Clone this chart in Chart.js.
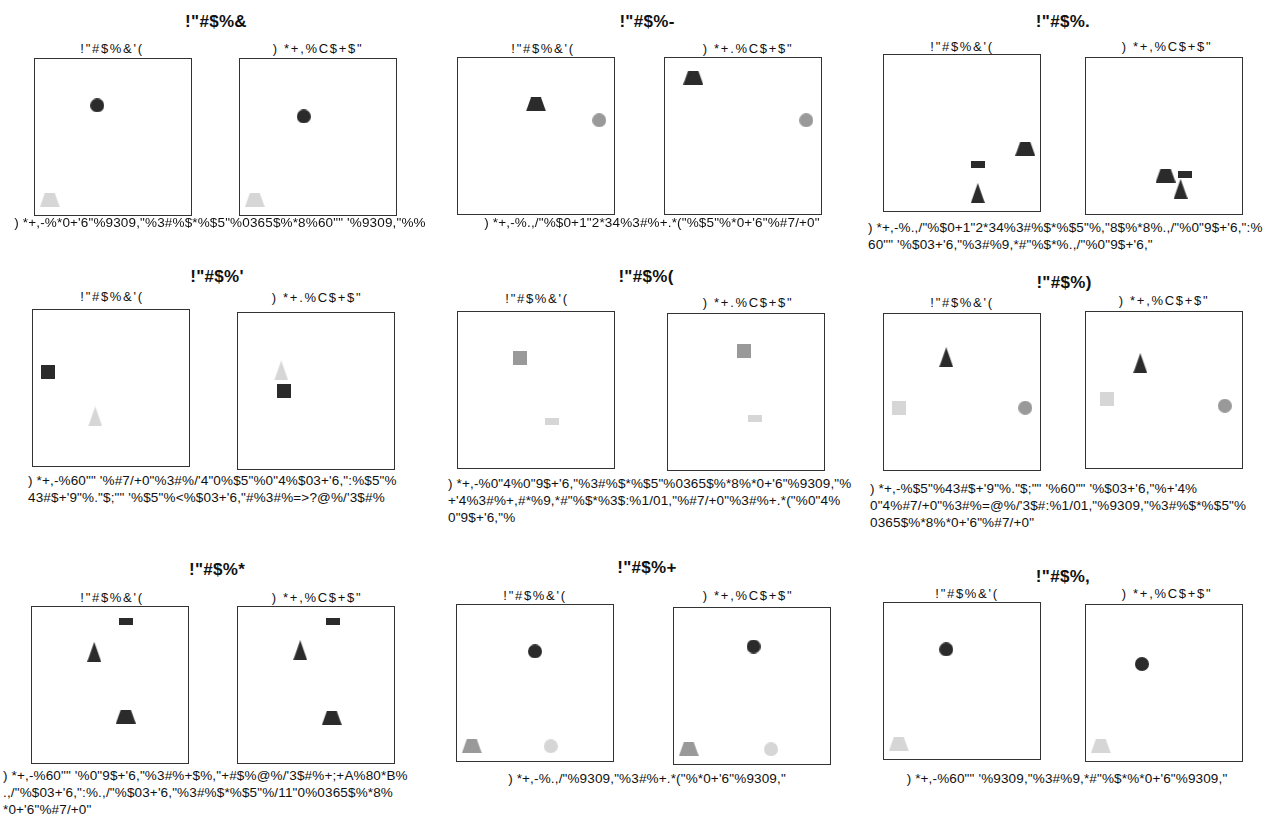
<!DOCTYPE html>
<html>
<head>
<meta charset="utf-8">
<script src="https://cdn.jsdelivr.net/npm/chart.js@4.4.1/dist/chart.umd.min.js"></script>
<style>
  body { margin: 0; background: #fff; }
  #page { position: relative; width: 1281px; height: 834px; overflow: hidden;
          font-family: "Liberation Sans", Arial, sans-serif; color: #111; }
  .t { position: absolute; white-space: pre; transform: translate(-50%, -50%); }
  .title { font-weight: bold; font-size: 17px; letter-spacing: 0.3px; }
  .sub { font-size: 13px; letter-spacing: 1.7px; }
  .cap { position: absolute; white-space: pre; font-size: 13.5px; line-height: 17px; letter-spacing: 0.15px; }
  canvas { position: absolute; }
</style>
</head>
<body>
<div id="page"></div>
<script>
const panelTitles = ['!"#$%&', '!"#$%-', '!"#$%.', '!"#$%\'', '!"#$%(', '!"#$%)', '!"#$%*', '!"#$%+', '!"#$%,'];
const leftTitles = Array(9).fill('!"#$%&\'(');
const rightTitles = [') *+,%C$+$"', ') *+.%C$+$"', ') *+,%C$+$"', ') *+.%C$+$"', ') *+.%C$+$"',
                     ') *+,%C$+$"', ') *+,%C$+$"', ') *+,%C$+$"', ') *+,%C$+$"'];
const captions = [
  [') *+,-%*0+\'6"%9309,"%3#%$*%$5"%0365$%*8%60"" \'%9309,"%%'],
  [') *+,-%.,/"%$0+1"2*34%3#%+.*("%$5"%*0+\'6"%#7/+0"'],
  [') *+,-%.,/"%$0+1"2*34%3#%$*%$5"%,"8$%*8%.,/"%0"9$+\'6,":%',
   '60"" \'%$03+\'6,"%3#%9,*#"%$*%.,/"%0"9$+\'6,"'],
  [') *+,-%60"" \'%#7/+0"%3#%/\'4"0%$5"%0"4%$03+\'6,":%$5"%',
   '43#$+\'9"%."$;"" \'%$5"%<%$03+\'6,"#%3#%=>?@%/\'3$#%'],
  [') *+,-%0"4%0"9$+\'6,"%3#%$*%$5"%0365$%*8%*0+\'6"%9309,"%',
   '+\'4%3#%+,#*%9,*#"%$*%3$:%1/01,"%#7/+0"%3#%+.*("%0"4%',
   '0"9$+\'6,"%'],
  [') *+,-%$5"%43#$+\'9"%."$;"" \'%60"" \'%$03+\'6,"%+\'4%',
   '0"4%#7/+0"%3#%=@%/\'3$#:%1/01,"%9309,"%3#%$*%$5"%',
   '0365$%*8%*0+\'6"%#7/+0"'],
  [') *+,-%60"" \'%0"9$+\'6,"%3#%+$%,"+#$%@%/\'3$#%+;+A%80*B%',
   '.,/"%$03+\'6,":%.,/"%$03+\'6,"%3#%$*%$5"%/11"0%0365$%*8%',
   '*0+\'6"%#7/+0"'],
  [') *+,-%.,/"%9309,"%3#%+.*("%*0+\'6"%9309,"'],
  [') *+,-%60"" \'%9309,"%3#%9,*#"%$*%*0+\'6"%9309,"']
];

// objects in each puzzle, their tone, and their place (0-10) before and after
const shapes = [
  ['circle', 'trapezoid'],
  ['trapezoid', 'circle'],
  ['bar', 'triangle', 'trapezoid'],
  ['square', 'triangle'],
  ['square', 'bar'],
  ['triangle', 'square', 'circle'],
  ['bar', 'triangle', 'trapezoid'],
  ['circle', 'trapezoid', 'circle'],
  ['circle', 'trapezoid']
];
const tones = [
  ['dark', 'light'],
  ['dark', 'grey'],
  ['dark', 'dark', 'dark'],
  ['dark', 'light'],
  ['grey', 'light'],
  ['dark', 'light', 'grey'],
  ['dark', 'dark', 'dark'],
  ['dark', 'grey', 'light'],
  ['dark', 'light']
];
const beforeX = [[4, 1], [5, 9], [6, 6, 9], [1, 4], [4, 6], [4, 1, 9], [6, 4, 6], [5, 1, 6], [4, 1]];
const beforeY = [[7, 1], [7, 6], [3, 1.2, 4], [6, 3.2], [7, 3], [7.2, 4, 4], [9, 7.1, 3], [7, 1, 1], [7, 1]];
const afterX = [[4.1, 1], [1.85, 9], [6.3, 6.05, 5.1], [3, 2.8], [4.85, 5.6], [3.5, 1.4, 8.85], [6.1, 4, 6], [5.1, 1, 6.2], [3.6, 1]];
const afterY = [[6.3, 1], [8.7, 6], [2.55, 1.65, 2.5], [5, 6.3], [7.6, 3.3], [6.7, 4.4, 4], [9, 7.2, 2.9], [7.5, 1, 1], [6.2, 1]];

// page layout
const BOX = 158;
const boxes = [
  [[34, 58], [239, 58]],
  [[457, 57], [664, 57]],
  [[883, 54], [1085, 57]],
  [[32, 309], [237, 312]],
  [[457, 311], [667, 313]],
  [[883, 313], [1085, 311]],
  [[31, 606], [237, 606]],
  [[456, 604], [673, 607]],
  [[883, 602], [1085, 604]]
];
const titlePos = [[216, 22], [647, 22], [1063, 22], [217, 277], [646, 277], [1064, 283], [217, 570], [647, 568], [1063, 577]];
const subPos = [
  [[112, 48], [318, 48]], [[543, 48], [748, 48]], [[962, 46], [1167, 46]],
  [[112, 296], [317, 297]], [[537, 298], [748, 302]], [[962, 302], [1164, 300]],
  [[112, 597], [317, 597]], [[535, 595], [748, 595]], [[967, 593], [1167, 593]]
];
const capPos = [[220, 222, 'center'], [652, 222, 'center'], [868, 227, 'left'],
                [28, 480, 'left'], [448, 483, 'left'], [870, 488, 'left'],
                [3, 775, 'left'], [647, 778, 'center'], [1067, 778, 'center']];
const toneColors = { dark: '#2b2b2b', grey: '#999999', light: '#d6d6d6' };

const page = document.getElementById('page');

function addText(cls, str, x, y) {
  const d = document.createElement('div');
  d.className = 't ' + cls;
  d.textContent = str;
  d.style.left = x + 'px';
  d.style.top = y + 'px';
  page.appendChild(d);
}

const shapeCache = {};
function shapeImage(kind, tone) {
  const key = kind + tone;
  if (shapeCache[key]) return shapeCache[key];
  const sizes = { circle: [14, 14], trapezoid: [20, 14], triangle: [14, 20], bar: [14, 7], square: [14, 14] };
  const [w, h] = sizes[kind];
  const c = document.createElement('canvas');
  c.width = w;
  c.height = h;
  const g = c.getContext('2d');
  g.fillStyle = toneColors[tone];
  g.beginPath();
  if (kind == 'circle') {
    g.arc(7, 7, 7, 0, Math.PI * 2);
  } else if (kind == 'trapezoid') {
    g.moveTo(5, 0); g.lineTo(15, 0); g.lineTo(20, 14); g.lineTo(0, 14);
  } else if (kind == 'triangle') {
    g.moveTo(7, 0); g.lineTo(14, 20); g.lineTo(0, 20);
  } else {
    g.rect(0, 0, w, h);
  }
  g.closePath();
  g.fill();
  shapeCache[key] = c;
  return c;
}

const frame = {
  id: 'frame',
  afterDraw(chart) {
    const a = chart.chartArea;
    const ctx = chart.ctx;
    ctx.save();
    ctx.strokeStyle = '#333';
    ctx.lineWidth = 1;
    ctx.strokeRect(a.left + 0.5, a.top + 0.5, a.right - a.left - 1, a.bottom - a.top - 1);
    ctx.restore();
  }
};

function drawBox(x, y, xs, ys, kinds, tns) {
  const cv = document.createElement('canvas');
  cv.width = BOX;
  cv.height = BOX;
  cv.style.left = x + 'px';
  cv.style.top = y + 'px';
  page.appendChild(cv);
  const pts = xs.map((v, k) => ({ x: v, y: ys[k] }));
  new Chart(cv, {
    type: 'scatter',
    data: {
      datasets: [{
        data: pts,
        pointStyle: kinds.map((k, j) => shapeImage(k, tns[j])),
        pointRadius: 8,
        pointHoverRadius: 8,
        pointBorderWidth: 0,
        clip: false
      }]
    },
    options: {
      responsive: false,
      animation: false,
      events: [],
      layout: { padding: 0, autoPadding: false },
      scales: {
        x: { display: false, min: 0, max: 10 },
        y: { display: false, min: 0, max: 10 }
      },
      plugins: { legend: { display: false }, tooltip: { enabled: false } }
    },
    plugins: [frame]
  });
}

for (let i = 0; i < 9; i++) {
  addText('title', panelTitles[i], titlePos[i][0], titlePos[i][1]);
  addText('sub', leftTitles[i], subPos[i][0][0], subPos[i][0][1]);
  addText('sub', rightTitles[i], subPos[i][1][0], subPos[i][1][1]);

  drawBox(boxes[i][0][0], boxes[i][0][1], beforeX[i], beforeY[i], shapes[i], tones[i]);
  drawBox(boxes[i][1][0], boxes[i][1][1], afterX[i], afterY[i], shapes[i], tones[i]);

  const cap = document.createElement('div');
  cap.className = 'cap';
  cap.textContent = captions[i].join('\n');
  cap.style.top = (capPos[i][1] - 8.5) + 'px';
  cap.style.left = capPos[i][0] + 'px';
  if (capPos[i][2] == 'center') cap.style.transform = 'translateX(-50%)';
  page.appendChild(cap);
}
</script>
</body>
</html>
